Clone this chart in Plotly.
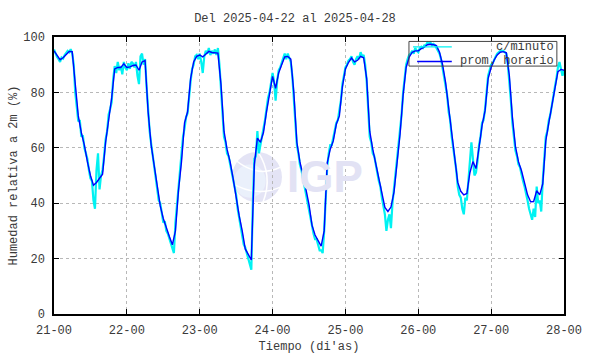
import plotly.graph_objects as go

# ---------------- data ----------------
title_text = "Del 2025-04-22 al 2025-04-28"
day_ticks = [21, 22, 23, 24, 25, 26, 27, 28]
day_labels = ["21-00", "22-00", "23-00", "24-00", "25-00", "26-00", "27-00", "28-00"]
legend_names = ["c/minuto", "prom. horario"]

# hourly mean relative humidity (%), hour 0 = day 21 00h
hourly_rh = [
    95, 93.5, 91.8, 92.5, 93.8, 94.8, 94.7, 83, 71.5, 65.5, 61, 55,
    50, 46.5, 47.5, 49, 50.5, 62, 70, 78, 88.5, 89, 89, 90.3,
    89, 89.2, 89.7, 89.9, 88, 91, 91.5, 73, 61, 53.5, 45, 39,
    34.5, 31, 28, 25, 30, 44.5, 55, 69, 73, 85, 91, 93,
    93.5, 92.8, 94, 94.8, 94.4, 94.3, 94.2, 83, 66, 59.5, 55, 49,
    42, 35.5, 30, 23.5, 21.5, 19.5, 54, 63.5, 62, 65.5, 73, 79.5,
    85.8, 81.5, 87, 90, 92.8, 93, 92, 80, 62, 55, 50.5, 45,
    39.5, 32, 28.5, 26.5, 24.5, 30, 54.5, 59.5, 62.5, 68.5, 71.5, 82,
    88.5, 90.8, 92.4, 91, 91.6, 93, 92.5, 85, 66, 59.5, 54.5, 49,
    43.5, 38.5, 37, 38.6, 44, 53.5, 65, 79, 89, 92.7, 94.5, 95,
    95, 95.8, 96.3, 97.2, 97.4, 97.2, 96.9, 94.5, 90, 83.5, 74.5, 65.5,
    55.8, 47.5, 44.3, 43, 43.5, 51, 55, 52.5, 60, 68, 73.4, 85,
    89, 91.7, 93.5, 94.5, 94.7, 94.3, 86, 71, 60.5, 55, 51.7, 47.8,
    43, 40.5, 40.6, 44.5, 43, 47, 62.5, 69, 75, 81.2, 87.5, 88.3,
    88,
]

# per-minute readings sampled every 30 min (%)
minute_rh = [
    95.5, 94, 92.8, 92, 91, 92.6, 92.2, 93.5, 94.2, 95, 94.5, 95.6,
    94, 90, 80, 74, 69.5, 70, 64, 64.5, 60, 58, 56, 52,
    49, 48, 41, 38, 52, 58, 45, 50, 52, 57, 63, 66,
    72, 74, 76.5, 85, 89.5, 87, 91, 88, 89.5, 86.5, 91, 89,
    88, 90.5, 88.5, 91, 90.5, 89, 91, 86, 83, 93, 94, 90,
    92, 82, 72, 66, 61.5, 57, 54.5, 49, 44, 41, 40, 36,
    33, 33.5, 30, 29, 27, 25.5, 23.5, 22, 33, 39, 46, 50,
    56, 64, 67, 71, 72.5, 79, 84, 88.5, 90, 93, 93.5, 92,
    94, 91, 87, 93, 95, 94, 96, 93.5, 95, 94, 95.5, 93.5,
    96, 90, 81, 72, 64, 62, 58, 57, 54, 51, 48, 45,
    43, 38, 35, 32, 29, 25, 24, 22, 20, 17, 16, 40,
    56, 57, 66, 58, 61, 64, 66, 70, 74, 78, 80, 84,
    87, 84, 77, 84, 88, 89, 91, 93, 94, 92, 94, 92.5,
    91, 86, 77, 68, 61, 58, 54, 52, 49, 47, 44, 41,
    38, 35, 31, 29, 27, 27, 25, 23, 23, 22, 30, 42,
    53, 58, 61, 61, 64, 66, 69, 70, 73, 77, 83, 86,
    89, 90, 91.5, 92, 93, 91, 90, 92, 93, 92, 94.5, 93,
    93.5, 90, 84, 74, 64, 62, 58, 57, 53, 51, 48, 46,
    42, 38, 36, 30, 34, 36, 31, 40, 45, 50, 55, 60,
    66, 72, 80, 85, 90, 92, 93.5, 94, 95, 94, 96, 95,
    94.5, 96, 96.5, 96, 97, 97, 98, 97.5, 98, 97, 97.5, 97,
    96, 95.5, 94, 92, 89, 86, 82, 79, 73, 70, 64, 60,
    56, 52, 46, 43, 42, 38, 36, 42, 41, 48, 53, 62,
    56, 50, 51, 55, 61, 64, 69, 70, 74, 80, 86, 88,
    90, 90.5, 92, 93, 94, 94.5, 95, 95, 95, 94.5, 94, 90,
    84, 77, 69, 64, 59, 57, 54, 53, 50, 48, 46, 44,
    41, 38, 36, 34, 38, 35, 46, 40, 41, 37, 48, 56,
    64, 66, 70, 72, 76, 79, 82, 85, 89, 91, 88, 86,
    88,
]

hourly_x = [21 + h / 24 for h in range(len(hourly_rh))]
minute_x = [21 + h / 48 for h in range(len(minute_rh))]

font_mono = "Liberation Mono, Courier New, monospace"
text_col = "#3a3a3a"
cyan = "#00f2f2"
blue = "#0000ff"

fig = go.Figure()
fig.add_trace(go.Scatter(
    x=minute_x, y=minute_rh, mode="lines", name=legend_names[0],
    line=dict(color=cyan, width=2.2), showlegend=False,
))
fig.add_trace(go.Scatter(
    x=hourly_x, y=hourly_rh, mode="lines", name=legend_names[1],
    line=dict(color=blue, width=1.4), showlegend=False,
))

# watermark (IGP logo)
fig.add_shape(type="circle", xref="paper", yref="paper",
              x0=0.349, x1=0.447, y0=0.404, y1=0.585,
              fillcolor="#e4e4f5", line=dict(width=0), layer="below")
fig.add_shape(type="circle", xref="paper", yref="paper",
              x0=0.353, x1=0.415, y0=0.420, y1=0.540,
              fillcolor="#eaf0fb", line=dict(width=0), layer="below")
fig.add_shape(type="path", xref="paper", yref="paper",
              path="M 0.356 0.555 Q 0.40 0.49 0.444 0.53",
              line=dict(color="white", width=1.5), layer="below")
fig.add_shape(type="path", xref="paper", yref="paper",
              path="M 0.351 0.47 Q 0.40 0.42 0.446 0.46",
              line=dict(color="white", width=1.5), layer="below")
fig.add_shape(type="path", xref="paper", yref="paper",
              path="M 0.40 0.585 Q 0.43 0.50 0.41 0.404",
              line=dict(color="white", width=1.5), layer="below")
fig.add_annotation(text="<b>IGP</b>", xref="paper", yref="paper",
                   x=0.453, y=0.496, xanchor="left", yanchor="middle",
                   showarrow=False,
                   font=dict(family="Liberation Sans, Arial", size=44, color="#e2e2f4"))

# legend box drawn manually (text right-aligned as in the original)
fig.add_shape(type="rect", xref="paper", yref="paper",
              x0=0.696, x1=0.986, y0=0.895, y1=0.984,
              line=dict(color="#444444", width=1), fillcolor="rgba(0,0,0,0)")
legend_colors = [cyan, blue]
legend_y = [0.964, 0.9116]
legend_x0 = [0.704, 0.712]
for name, col, ly, lx0 in zip(legend_names, legend_colors, legend_y, legend_x0):
    fig.add_shape(type="line", xref="paper", yref="paper",
                  x0=lx0, x1=0.780, y0=ly, y1=ly,
                  line=dict(color=col, width=1.3))
    fig.add_annotation(text=name, xref="paper", yref="paper",
                       x=0.984, y=ly, xanchor="right", yanchor="middle",
                       showarrow=False,
                       font=dict(family=font_mono, size=12, color=text_col))

fig.update_layout(
    width=590, height=354,
    margin=dict(l=54, r=26, t=37, b=40, autoexpand=False),
    paper_bgcolor="white", plot_bgcolor="white",
    font=dict(family=font_mono, size=12, color=text_col),
    title=dict(text=title_text, x=0.5, xanchor="center", y=0.95, yanchor="middle",
               font=dict(family=font_mono, size=12, color=text_col)),
    showlegend=False,
)
fig.update_xaxes(
    range=[21, 28], tickvals=day_ticks, ticktext=day_labels,
    showgrid=True, gridcolor="#b8b8b8", griddash="dot", gridwidth=1,
    showline=True, linecolor="black", linewidth=1.5, mirror="ticks",
    ticks="inside", ticklen=5, tickcolor="black", ticklabelstandoff=4,
    tickfont=dict(family=font_mono, size=12, color=text_col),
    title=dict(text="Tiempo (di'as)", font=dict(family=font_mono, size=12, color=text_col), standoff=6),
    zeroline=False, automargin=False,
)
fig.update_yaxes(
    range=[0, 100], tickvals=[0, 20, 40, 60, 80, 100],
    showgrid=True, gridcolor="#b8b8b8", griddash="dot", gridwidth=1,
    showline=True, linecolor="black", linewidth=1.5, mirror="ticks",
    ticks="inside", ticklen=5, tickcolor="black", ticklabelstandoff=5,
    tickfont=dict(family=font_mono, size=12, color=text_col),
    title=dict(text="Humedad relativa a 2m (%)", font=dict(family=font_mono, size=12, color=text_col), standoff=3),
    zeroline=False, automargin=False,
)

fig.write_html("out.html")
